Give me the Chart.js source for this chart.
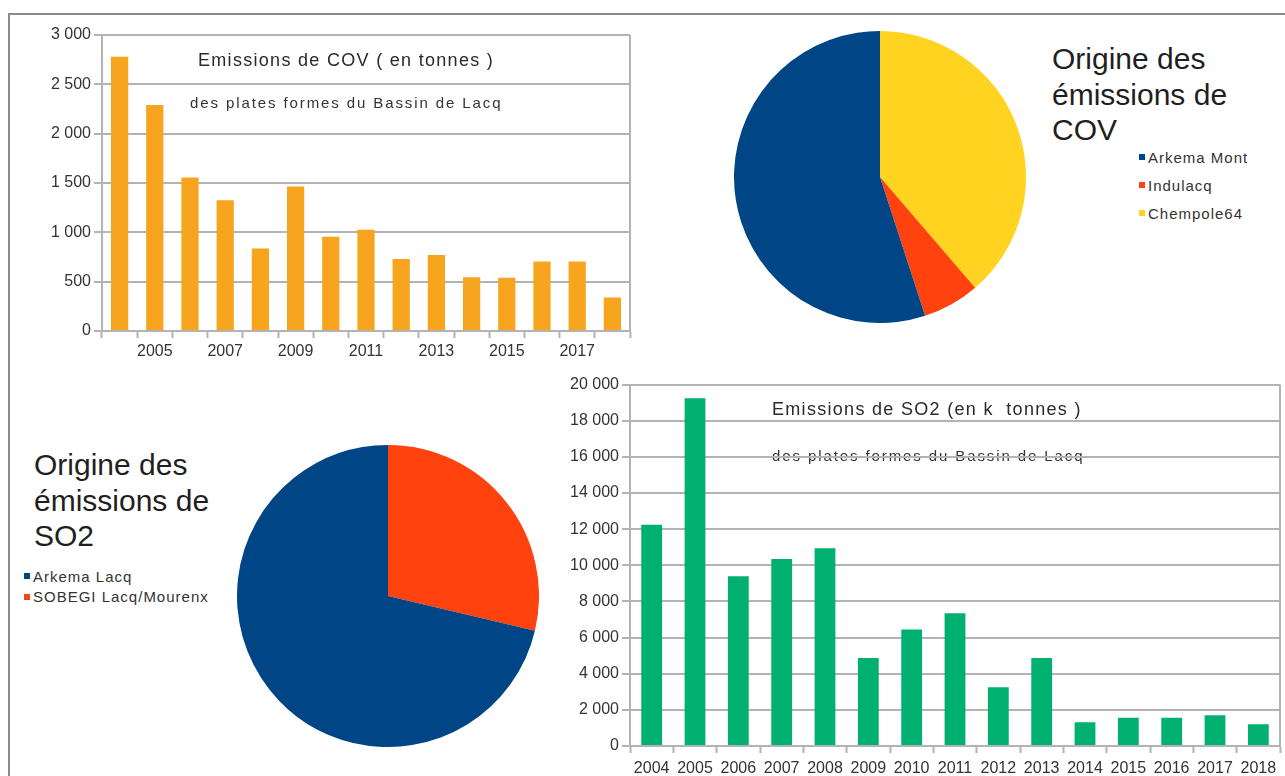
<!DOCTYPE html>
<html lang="fr">
<head>
<meta charset="utf-8">
<title>Emissions du Bassin de Lacq</title>
<script src="https://cdn.jsdelivr.net/npm/chart.js@4.4.1/dist/chart.umd.min.js"></script>
<style>
  html, body { margin: 0; padding: 0; background: #fff; }
  body { width: 1285px; height: 776px; position: relative; overflow: hidden;
         font-family: "Liberation Sans", Arial, sans-serif; }
  .cadre { position: absolute; left: 8px; top: 13px; right: 0; bottom: 0;
           border-top: 2px solid #8c8c8c; border-left: 2px solid #8c8c8c; }
  canvas { position: absolute; }
  .titre { position: absolute; font-size: 30px; line-height: 35.5px; color: #1f1f1f; white-space: nowrap; }
  .legende { position: absolute; font-size: 15px; letter-spacing: 1px; color: #333; white-space: nowrap; }
  .legende .item { display: flex; align-items: center; }
  .legende .carre { width: 6px; height: 6px; margin-right: 3px; flex: none; }
</style>
</head>
<body>
<div class="cadre"></div>

<canvas id="barCov" width="620" height="355" style="left:20px; top:20px;"></canvas>
<canvas id="pieCov" width="292" height="292" style="left:734px; top:31px;"></canvas>
<div class="titre" style="left:1052px; top:41px;">Origine des<br>émissions de<br>COV</div>
<div class="legende" id="legCov" style="left:1139px; top:143px;"></div>

<canvas id="pieSo2" width="302" height="302" style="left:237px; top:445px;"></canvas>
<div class="titre" style="left:34px; top:447px;">Origine des<br>émissions de<br>SO2</div>
<div class="legende" id="legSo2" style="left:24px; top:566px;"></div>

<canvas id="barSo2" width="725" height="412" style="left:560px; top:372px;"></canvas>

<script>
// années communes aux deux histogrammes
const annees = [2004, 2005, 2006, 2007, 2008, 2009, 2010, 2011, 2012, 2013, 2014, 2015, 2016, 2017, 2018];

// COV en tonnes
const emissionsCov = [2780, 2290, 1555, 1325, 835, 1465, 955, 1025, 730, 770, 545, 540, 705, 705, 340];
// SO2
const emissionsSo2 = [12250, 19250, 9400, 10350, 10950, 4870, 6450, 7350, 3250, 4870, 1310, 1560, 1560, 1700, 1200];

// répartition par site (%)
const sourcesCov = ['Arkema Mont', 'Indulacq', 'Chempole64'];
const partsCov = [55.0, 6.3, 38.7];
const couleursCov = ['#004586', '#ff420e', '#ffd320'];

const sourcesSo2 = ['Arkema Lacq', 'SOBEGI Lacq/Mourenx'];
const partsSo2 = [71.3, 28.7];
const couleursSo2 = ['#004586', '#ff420e'];

const gris = '#b3b3b3';

Chart.defaults.font.family = '"Liberation Sans", Arial, sans-serif';
Chart.defaults.font.size = 16;
Chart.defaults.color = '#333';

// titre + sous-titre dessinés dans la zone du graphique, sous la grille
const texteInterne = {
    id: 'texteInterne',
    beforeDraw(chart, args, opts) {
        const { ctx, chartArea } = chart;
        ctx.save();
        ctx.textBaseline = 'alphabetic';
        (opts.lignes || []).forEach(l => {
            ctx.font = l.font;
            ctx.fillStyle = l.couleur;
            ctx.letterSpacing = l.espace;
            ctx.fillText(l.texte, chartArea.left + l.dx, chartArea.top + l.dy);
        });
        ctx.letterSpacing = '0px';
        // bord droit du cadre
        ctx.strokeStyle = gris;
        ctx.lineWidth = 2;
        ctx.beginPath();
        ctx.moveTo(chartArea.right, chartArea.top);
        ctx.lineTo(chartArea.right, chartArea.bottom);
        ctx.stroke();
        ctx.restore();
    }
};

function formatMilliers(v) {
    return v.toLocaleString('en-US').replace(/,/g, ' ');
}

function histogramme(id, valeurs, couleur, yMax, pas, largeurY, hauteurX, padding, barPct, padX, etiquette, lignes) {
    return new Chart(document.getElementById(id), {
        type: 'bar',
        data: {
            labels: annees.map(String),
            datasets: [{
                data: valeurs,
                backgroundColor: couleur,
                borderWidth: 0,
                categoryPercentage: 1,
                barPercentage: barPct
            }]
        },
        options: {
            responsive: false,
            animation: false,
            layout: { padding: padding },
            plugins: {
                legend: { display: false },
                tooltip: { enabled: false },
                texteInterne: { lignes: lignes }
            },
            scales: {
                x: {
                    offset: true,
                    grid: { offset: true, drawOnChartArea: false, tickLength: 7, tickColor: gris, tickWidth: 2 },
                    border: { color: gris, width: 2 },
                    ticks: { autoSkip: false, maxRotation: 0, padding: padX, callback: etiquette },
                    afterFit: s => { s.height = hauteurX; }
                },
                y: {
                    min: 0,
                    max: yMax,
                    grid: { color: gris, lineWidth: 2, tickLength: 8 },
                    border: { color: gris, width: 2 },
                    ticks: { stepSize: pas, padding: 3, callback: formatMilliers },
                    afterFit: s => { s.width = largeurY; }
                }
            }
        },
        plugins: [texteInterne]
    });
}

histogramme('barCov', emissionsCov, '#f7a51f', 3000, 500, 82, 44,
    { top: 15, right: 10, left: 0, bottom: 0 }, 0.49, 4,
    (v, i) => annees[i] % 2 === 1 ? String(annees[i]) : '',
    [
        { texte: 'Emissions de COV ( en tonnes )', font: '18px "Liberation Sans", Arial, sans-serif', couleur: '#2a2a2a', espace: '1.3px', dx: 96, dy: 31 },
        { texte: 'des plates formes du Bassin de Lacq', font: '15px "Liberation Sans", Arial, sans-serif', couleur: '#333', espace: '1.9px', dx: 88, dy: 73 }
    ]);

histogramme('barSo2', emissionsSo2, '#00b071', 20000, 2000, 70, 38,
    { top: 11, right: 5, left: 0, bottom: 0 }, 0.48, 6,
    (v, i) => String(annees[i]),
    [
        { texte: 'Emissions de SO2 (en k  tonnes )', font: '18px "Liberation Sans", Arial, sans-serif', couleur: '#2a2a2a', espace: '1.3px', dx: 142, dy: 30 },
        { texte: 'des plates formes du Bassin de Lacq', font: '15px "Liberation Sans", Arial, sans-serif', couleur: '#333', espace: '1.9px', dx: 142, dy: 76 }
    ]);

// les secteurs tournent dans le sens inverse de Chart.js : on inverse l'ordre
function camembert(id, sources, parts, couleurs) {
    return new Chart(document.getElementById(id), {
        type: 'pie',
        data: {
            labels: sources.slice().reverse(),
            datasets: [{
                data: parts.slice().reverse(),
                backgroundColor: couleurs.slice().reverse(),
                borderWidth: 0
            }]
        },
        options: {
            responsive: false,
            animation: false,
            layout: { padding: 0 },
            plugins: { legend: { display: false }, tooltip: { enabled: false } }
        }
    });
}

camembert('pieCov', sourcesCov, partsCov, couleursCov);
camembert('pieSo2', sourcesSo2, partsSo2, couleursSo2);

function legende(id, sources, couleurs, hauteur) {
    const el = document.getElementById(id);
    sources.forEach((s, i) => {
        el.innerHTML += `<div class="item" style="height:${hauteur}px"><span class="carre" style="background:${couleurs[i]}"></span>${s}</div>`;
    });
}

legende('legCov', sourcesCov, couleursCov, 28);
legende('legSo2', sourcesSo2, couleursSo2, 20.5);
</script>
</body>
</html>
